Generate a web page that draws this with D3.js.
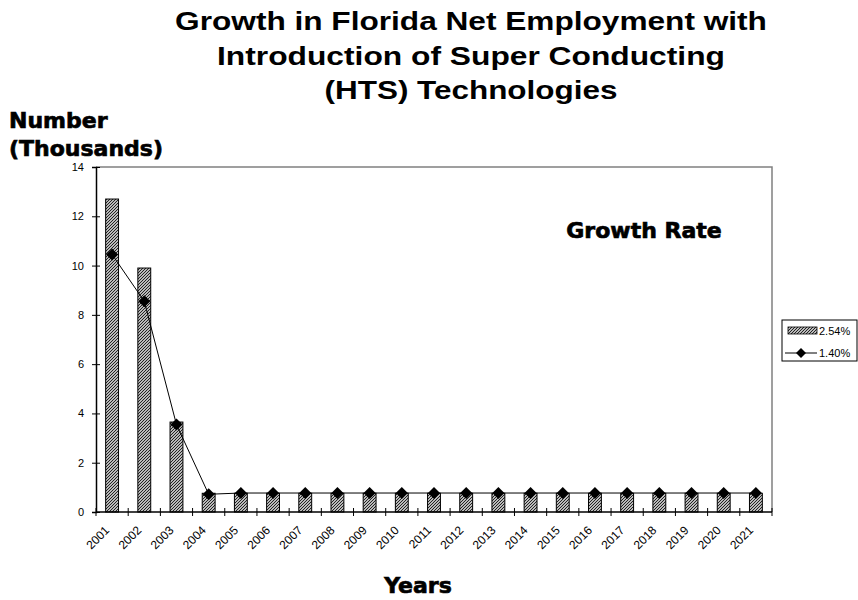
<!DOCTYPE html>
<html><head><meta charset="utf-8">
<script src="https://cdn.jsdelivr.net/npm/d3@7"></script>
<style>body{margin:0;background:#fff;}svg{display:block;}</style>
</head><body>
<svg id="chart" width="858" height="600"></svg>
<script>
const categories = ["2001","2002","2003","2004","2005","2006","2007","2008","2009","2010","2011","2012","2013","2014","2015","2016","2017","2018","2019","2020","2021"];
const barValues = [12.7, 9.9, 3.65, 0.76, 0.76, 0.76, 0.76, 0.76, 0.76, 0.76, 0.76, 0.76, 0.76, 0.76, 0.76, 0.76, 0.76, 0.76, 0.76, 0.76, 0.76];
const lineValues = [10.45, 8.55, 3.55, 0.72, 0.77, 0.77, 0.77, 0.77, 0.77, 0.77, 0.77, 0.77, 0.77, 0.77, 0.77, 0.77, 0.77, 0.77, 0.77, 0.77, 0.77];
const yTicks = [0, 2, 4, 6, 8, 10, 12, 14];
const seriesNames = ["2.54%", "1.40%"];
const titleLines = ["Growth in Florida Net Employment with", "Introduction of Super Conducting", "(HTS) Technologies"];

const svg = d3.select("#chart");
const L = 96, R = 772, T = 167, B = 512;
const FONT = "'Liberation Sans', Arial, sans-serif";
const HEAVY = "'DejaVu Sans', sans-serif";

const defs = svg.append("defs");
const pat = defs.append("pattern").attr("id","hatch").attr("patternUnits","userSpaceOnUse")
  .attr("width",3).attr("height",3);
pat.append("rect").attr("width",3).attr("height",3).attr("fill","#fff");
pat.append("path").attr("d","M-1,1 L1,-1 M0,3 L3,0 M2,4 L4,2").attr("stroke","#1a1a1a").attr("stroke-width",1.15);

const x = d3.scaleBand().domain(categories).range([L, R]).paddingInner(0.6).paddingOuter(0.3);
const y = d3.scaleLinear().domain([0, 14]).range([B, T]);
const step = x.step();

// plot border (top/right)
svg.append("path").attr("d", `M${L},${T} H${R} V${B}`).attr("fill","none").attr("stroke","#808080").attr("stroke-width",1.5);

// bars
svg.append("g").selectAll("rect").data(categories).join("rect")
  .attr("x", d => x(d)).attr("width", x.bandwidth())
  .attr("y", (d,i) => y(barValues[i])).attr("height", (d,i) => B - y(barValues[i]))
  .attr("fill","url(#hatch)").attr("stroke","#000").attr("stroke-width",1);

// line
const cx = d => x(d) + x.bandwidth()/2;
svg.append("path").datum(categories)
  .attr("d", d3.line().x(d => cx(d)).y((d,i) => y(lineValues[i])))
  .attr("fill","none").attr("stroke","#000").attr("stroke-width",1);
svg.append("g").selectAll("path").data(categories).join("path")
  .attr("d", d3.symbol().type(d3.symbolSquare).size(72))
  .attr("transform", (d,i) => `translate(${cx(d)},${y(lineValues[i])}) rotate(45)`)
  .attr("fill","#000");

// y axis
const yAxis = svg.append("g").attr("transform", `translate(${L},0)`)
  .call(d3.axisLeft(y).tickValues(yTicks).tickSize(4).tickPadding(8));
yAxis.select(".domain").attr("stroke","#000").attr("stroke-width",1.5);
yAxis.selectAll(".tick line").attr("x1",4).attr("x2",-4).attr("stroke","#000");
yAxis.selectAll(".tick text").attr("font-family",FONT).attr("font-size",11).attr("fill","#000");

// x axis
const xAxis = svg.append("g");
xAxis.append("line").attr("x1",L).attr("x2",R).attr("y1",B).attr("y2",B).attr("stroke","#000").attr("stroke-width",1.5);
const bounds = d3.range(categories.length + 1).map(i => (i < categories.length ? x(categories[i]) - step*0.3 : R));
xAxis.selectAll("line.tk").data(bounds).join("line").attr("class","tk")
  .attr("x1", d => d).attr("x2", d => d).attr("y1", B-4).attr("y2", B+4).attr("stroke","#000");
xAxis.selectAll("text").data(categories).join("text")
  .attr("transform", d => `translate(${cx(d)-2},${B+19}) rotate(-45)`)
  .attr("text-anchor","end").attr("font-family",FONT).attr("font-size",12).text(d => d);

// title (horizontally stretched like the reference)
const tLens = [592, 508, 293];
svg.append("g").selectAll("text").data(titleLines).join("text")
  .attr("x", 0).attr("y", 0).attr("text-anchor","middle")
  .attr("font-family",FONT).attr("font-weight","bold").attr("font-size",26).text(d => d)
  .each(function(d,i){
    const w = this.getComputedTextLength();
    d3.select(this).attr("transform", `translate(471,${30 + i*34.5}) scale(${tLens[i]/w},1)`);
  });

// axis titles
const heavy = sel => sel.attr("font-family",HEAVY).attr("font-weight","bold").attr("font-size",22)
  .attr("stroke","#000").attr("stroke-width",0.7);
svg.append("text").attr("x",9).attr("y",128).call(heavy).text("Number");
svg.append("text").attr("x",9).attr("y",156).call(heavy).text("(Thousands)");
svg.append("text").attr("x",418).attr("y",593).attr("text-anchor","middle").call(heavy).text("Years");
svg.append("text").attr("x",644).attr("y",238).attr("text-anchor","middle").call(heavy).text("Growth Rate");

// legend
const lg = svg.append("g");
lg.append("rect").attr("x",782).attr("y",320).attr("width",75).attr("height",41).attr("fill","#fff").attr("stroke","#000");
lg.append("rect").attr("x",788).attr("y",327).attr("width",29).attr("height",7).attr("fill","url(#hatch)").attr("stroke","#000").attr("stroke-width",0.8);
lg.append("text").attr("x",819).attr("y",335).attr("font-family",FONT).attr("font-size",11).text(seriesNames[0]);
lg.append("line").attr("x1",785).attr("x2",817).attr("y1",353).attr("y2",353).attr("stroke","#000");
lg.append("path").attr("d", d3.symbol().type(d3.symbolSquare).size(50)).attr("transform","translate(801,353) rotate(45)").attr("fill","#000");
lg.append("text").attr("x",819).attr("y",357).attr("font-family",FONT).attr("font-size",11).text(seriesNames[1]);
</script>
</body></html>
